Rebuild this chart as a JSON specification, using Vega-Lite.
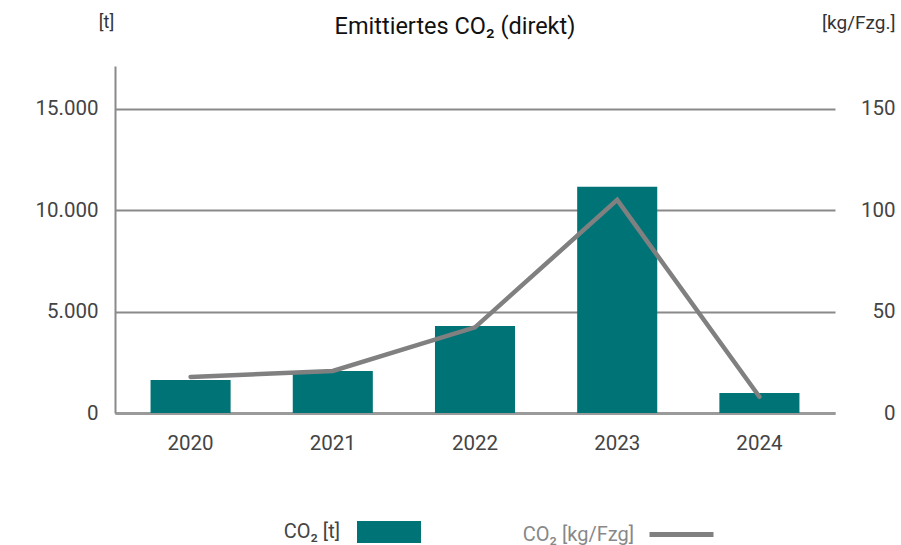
{
  "$schema": "https://vega.github.io/schema/vega-lite/v6.json",
  "autosize": {"type": "none"},
  "width": 720,
  "height": 347,
  "padding": {"left": 115, "top": 66, "right": 66, "bottom": 132},
  "background": "white",
  "config": {
    "view": {"stroke": null},
    "font": "Roboto",
    "locale": {"number": {"decimal": ",", "thousands": ".", "grouping": [3], "currency": ["", " €"]}},
    "axis": {"labelFont": "Roboto", "labelFontSize": 20.5, "labelColor": "#444444", "titleFont": "Roboto", "titleFontWeight": "normal"}
  },
  "title": {
    "text": "Emittiertes CO₂ (direkt)",
    "font": "Roboto",
    "fontSize": 23.5,
    "fontWeight": "normal",
    "color": "#111111",
    "anchor": "middle",
    "frame": "group",
    "baseline": "alphabetic",
    "dx": -20,
    "offset": -44
  },
  "data": {
    "values": [
      {"Jahr": "2020", "CO2_t": 1630, "CO2_kg_Fzg": 17.8},
      {"Jahr": "2021", "CO2_t": 2070, "CO2_kg_Fzg": 20.7},
      {"Jahr": "2022", "CO2_t": 4290, "CO2_kg_Fzg": 42.2},
      {"Jahr": "2023", "CO2_t": 11150, "CO2_kg_Fzg": 105},
      {"Jahr": "2024", "CO2_t": 990, "CO2_kg_Fzg": 8.0}
    ]
  },
  "encoding": {
    "x": {
      "field": "Jahr",
      "type": "ordinal",
      "scale": {"paddingInner": 0.437, "paddingOuter": 0.25},
      "axis": {
        "title": null,
        "labelAngle": 0,
        "ticks": false,
        "tickSize": 0,
        "labelPadding": 20,
        "domainColor": "#9a9a9a",
        "domainWidth": 3,
        "grid": false
      }
    }
  },
  "layer": [
    {
      "mark": {"type": "bar", "color": "#007377"},
      "encoding": {
        "y": {
          "field": "CO2_t",
          "type": "quantitative",
          "scale": {"domain": [0, 17100], "nice": false},
          "axis": {
            "title": "[t]",
            "titleAngle": 0,
            "titleX": -9,
            "titleY": -44,
            "titleAlign": "center",
            "titleBaseline": "middle",
            "titleFontSize": 18,
            "titleColor": "#333333",
            "values": [0, 5000, 10000, 15000],
            "format": ",d",
            "ticks": false,
            "tickSize": 0,
            "labelPadding": 17,
            "domainColor": "#8a8a8a",
            "domainWidth": 2,
            "grid": true,
            "gridColor": "#8a8a8a",
            "gridWidth": 2
          }
        },
        "color": {
          "datum": "CO₂ [t]",
          "scale": {"range": ["#007377"]},
          "legend": {
            "orient": "none",
            "legendX": 242,
            "legendY": 434,
            "title": null,
            "padding": 0,
            "symbolType": "M-1,-0.34H1V0.34H-1Z",
            "symbolSize": 4096,
            "symbolStrokeWidth": 0,
            "symbolOpacity": 1,
            "labelAlign": "right",
            "labelOffset": -81,
            "labelFont": "Roboto",
            "labelFontSize": 20,
            "labelColor": "#444444"
          }
        }
      }
    },
    {
      "mark": {"type": "line", "strokeWidth": 4.5, "strokeCap": "round", "color": "#808080"},
      "encoding": {
        "y": {
          "field": "CO2_kg_Fzg",
          "type": "quantitative",
          "scale": {"domain": [0, 171], "nice": false},
          "axis": {
            "orient": "right",
            "title": "[kg/Fzg.]",
            "titleAngle": 0,
            "titleX": 60,
            "titleY": -44,
            "titleAlign": "right",
            "titleBaseline": "middle",
            "titleFontSize": 19,
            "titleColor": "#333333",
            "values": [0, 50, 100, 150],
            "ticks": false,
            "tickSize": 0,
            "domain": false,
            "grid": false,
            "labelAlign": "right",
            "labelPadding": 60
          }
        },
        "stroke": {
          "datum": "CO₂ [kg/Fzg]",
          "scale": {"range": ["#808080"]},
          "legend": {
            "orient": "none",
            "legendX": 532,
            "legendY": 434,
            "title": null,
            "padding": 0,
            "symbolType": "stroke",
            "symbolSize": 4096,
            "symbolStrokeWidth": 5,
            "labelAlign": "right",
            "labelOffset": -82,
            "labelFont": "Roboto",
            "labelFontSize": 20,
            "labelColor": "#888888"
          }
        }
      }
    }
  ],
  "resolve": {"scale": {"y": "independent"}}
}
